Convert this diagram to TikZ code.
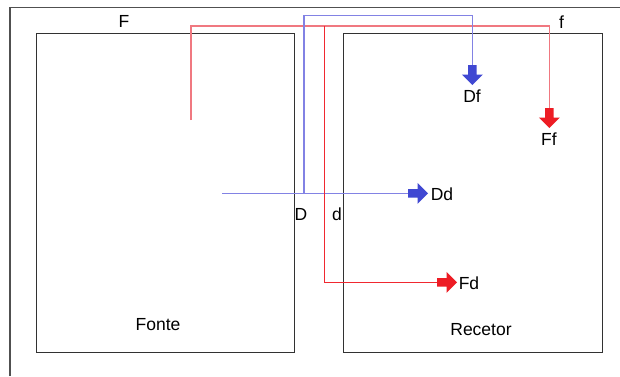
\documentclass[tikz,border=0pt]{standalone}
\usepackage{fontspec}
\setmainfont{Liberation Sans}
\definecolor{cframe}{RGB}{80,80,80}
\definecolor{cbox}{RGB}{50,50,50}
\definecolor{cblueline}{RGB}{130,130,228}
\definecolor{credline}{RGB}{240,120,128}
\definecolor{credline2}{RGB}{240,40,48}
\definecolor{cbluearrow}{RGB}{64,72,210}
\definecolor{credarrow}{RGB}{237,28,36}
\begin{document}
\begin{tikzpicture}[x=1pt,y=-1pt,
  frameline/.style={draw=cframe,line width=1.2pt},
  boxline/.style={draw=cbox,line width=1.2pt},
  blueline/.style={draw=cblueline,line width=1.2pt},
  redline/.style={draw=credline,line width=1.3pt},
  redline2/.style={draw=credline2,line width=1pt},
  lbl/.style={inner sep=0pt,font=\fontsize{17.5}{20}\selectfont},
  barrow/.pic={\fill[pic actions] (0,-4.2) -- (9.5,-4.2) -- (9.5,-10.5) -- (20,0) -- (9.5,10.5) -- (9.5,4.2) -- (0,4.2) -- cycle;}
]
\useasboundingbox[fill=white] (0,0) rectangle (620,376);
% outer frame (partial)
\draw[frameline] (10,376) -- (10,7.5) -- (620,7.5);
% boxes
\node[boxline,minimum width=258pt,minimum height=319pt,inner sep=0pt,anchor=north west] (fonte) at (36,32.7) {};
\node[boxline,minimum width=258.5pt,minimum height=319pt,inner sep=0pt,anchor=north west] (recetor) at (343.2,32.7) {};
\node[lbl] (tfonte) at (158,325) {Fonte};
\node[lbl] (trecetor) at (481,329.5) {Recetor};
% labels
\node[lbl] (F) at (124,21.5) {F};
\node[lbl] (f) at (561.5,22) {f};
\node[lbl] (D) at (301,214.5) {D};
\node[lbl] (d) at (337,214.5) {d};
\node[lbl] (Dd) at (442,194) {Dd};
\node[lbl] (Df) at (472,96) {Df};
\node[lbl] (Ff) at (549,139) {Ff};
\node[lbl] (Fd) at (469,283) {Fd};
% coordinates
\coordinate (Fs) at (191,120);
\coordinate (Ds) at (222,193.3);
\coordinate (Dv) at (304,193.3);
\coordinate (dv) at (324.3,26);
\coordinate (aDd) at (408,193.3);
\coordinate (aDf) at (472.3,65);
\coordinate (aFf) at (549.3,108);
\coordinate (aFd) at (437,282.3);
% red F -> Ff
\draw[redline] (Fs) -- (Fs |- dv) -- (aFf |- dv) -- (aFf);
% blue D -> Df and D -> Dd
\draw[blueline] (Ds) -- (aDd);
\draw[blueline] (Dv) -- (304,15.7) -- (aDf |- 0,15.7) -- (aDf);
% red d -> Fd
\draw[redline2] (dv) -- (dv |- aFd) -- (aFd);
% block arrows
\pic[fill=cbluearrow] at (aDd) {barrow};
\pic[fill=cbluearrow,rotate=-90] at (aDf) {barrow};
\pic[fill=credarrow,rotate=-90] at (aFf) {barrow};
\pic[fill=credarrow] at (aFd) {barrow};
\end{tikzpicture}
\end{document}
